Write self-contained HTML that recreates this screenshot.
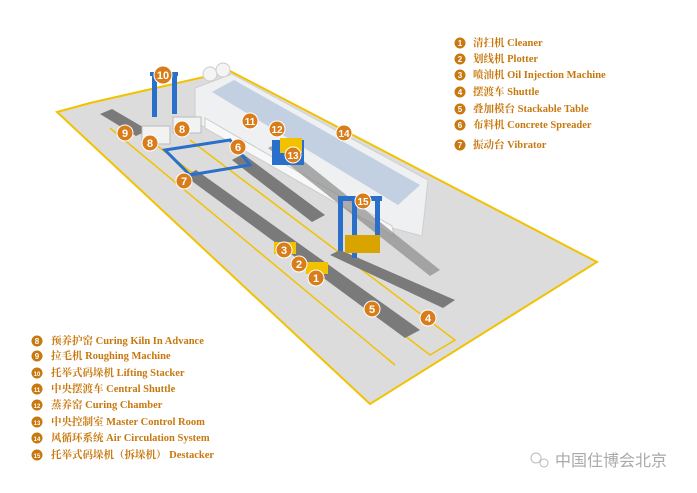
<!DOCTYPE html>
<html><head><meta charset="utf-8"><style>
body{margin:0;background:#fff;width:697px;height:493px;overflow:hidden}
svg{display:block}
.l{font-family:"Liberation Serif","Noto Serif CJK SC",serif;font-size:10.5px;font-weight:bold;fill:#c8780e}
.n{font-family:"Liberation Sans",sans-serif;font-size:8px;font-weight:bold;fill:#fff;text-anchor:middle}
.b{font-family:"Liberation Sans",sans-serif;font-size:11px;font-weight:bold;fill:#fff;text-anchor:middle}
</style></head><body>
<svg width="697" height="493" viewBox="0 0 697 493">
<polygon points="230,71 597,262 370,404 57,112 90,103" fill="#dcdcdc" stroke="#f2c200" stroke-width="2"/>
<polyline points="130,125 430,355 455,340 190,140" fill="none" stroke="#f2c200" stroke-width="1.5"/>
<polyline points="110,128 395,365" fill="none" stroke="#f2c200" stroke-width="1.5"/>
<polygon points="195,88 232,74 428,180 422,236 392,228 195,122" fill="#eef0f2" stroke="#cfcfcf"/>
<polygon points="212,92 234,80 420,185 398,205" fill="#c3d0e2"/>
<polygon points="205,118 392,226 394,236 205,128" fill="#f8f8f8" stroke="#ccc"/>
<circle cx="210" cy="74" r="7" fill="#f4f4f4" stroke="#ccc"/>
<circle cx="223" cy="70" r="7" fill="#f4f4f4" stroke="#ccc"/>
<polygon points="185,176 196,170 420,330 405,338" fill="#7a7a7a"/>
<polygon points="232,160 243,154 325,215 312,222" fill="#7a7a7a"/>
<polygon points="330,255 340,250 455,300 443,308" fill="#7a7a7a"/>
<polygon points="268,148 280,142 440,270 430,276" fill="#8a8a8a" opacity=".7"/>
<polygon points="100,114 112,109 148,130 136,136" fill="#7a7a7a"/>
<rect x="142" y="126" width="28" height="18" fill="#f2f2f2" stroke="#bbb"/>
<rect x="173" y="117" width="28" height="16" fill="#f2f2f2" stroke="#bbb"/>
<polygon points="165,150 230,140 250,165 190,175" fill="none" stroke="#2a6fc9" stroke-width="3"/>
<rect x="272" y="140" width="32" height="25" fill="#2a6fc9"/>
<rect x="280" y="138" width="22" height="15" fill="#f2c200"/>
<rect x="150" y="72" width="28" height="4" fill="#2a6fc9"/>
<rect x="152" y="72" width="5" height="45" fill="#2a6fc9"/>
<rect x="172" y="72" width="5" height="42" fill="#2a6fc9"/>
<rect x="338" y="196" width="44" height="5" fill="#2a6fc9"/>
<rect x="338" y="196" width="5" height="55" fill="#2a6fc9"/>
<rect x="352" y="200" width="5" height="58" fill="#2a6fc9"/>
<rect x="375" y="198" width="5" height="48" fill="#2a6fc9"/>
<rect x="345" y="235" width="35" height="18" fill="#d9a400"/>
<rect x="274" y="242" width="22" height="12" fill="#f2c200"/>
<rect x="306" y="262" width="22" height="12" fill="#f2c200"/>
<g fill="#d97d1a" stroke="#fff" stroke-width="1">
<circle cx="163" cy="75" r="9"/><circle cx="125" cy="133" r="8"/><circle cx="150" cy="143" r="8"/><circle cx="182" cy="129" r="8"/><circle cx="238" cy="147" r="8"/><circle cx="184" cy="181" r="8"/><circle cx="250" cy="121" r="8"/><circle cx="277" cy="129" r="8"/><circle cx="293" cy="155" r="8"/><circle cx="344" cy="133" r="8"/><circle cx="363" cy="201" r="8"/><circle cx="284" cy="250" r="8"/><circle cx="299" cy="264" r="8"/><circle cx="316" cy="278" r="8"/><circle cx="372" cy="309" r="8"/><circle cx="428" cy="318" r="8"/>
</g>
<g class="b">
<text x="163" y="79">10</text><text x="125" y="137">9</text><text x="150" y="147">8</text><text x="182" y="133">8</text><text x="238" y="151">6</text><text x="184" y="185">7</text><text x="250" y="125" style="font-size:10px">11</text><text x="277" y="133" style="font-size:10px">12</text><text x="293" y="159" style="font-size:10px">13</text><text x="344" y="137" style="font-size:10px">14</text><text x="363" y="205" style="font-size:10px">15</text><text x="284" y="254">3</text><text x="299" y="268">2</text><text x="316" y="282">1</text><text x="372" y="313">5</text><text x="428" y="322">4</text>
</g>
<g fill="#c8780e">
<circle cx="460" cy="43" r="5.5"/><circle cx="460" cy="59" r="5.5"/><circle cx="460" cy="75" r="5.5"/><circle cx="460" cy="92" r="5.5"/><circle cx="460" cy="109" r="5.5"/><circle cx="460" cy="125" r="5.5"/><circle cx="460" cy="145" r="5.5"/>
<circle cx="37" cy="341" r="5.5"/><circle cx="37" cy="356" r="5.5"/><circle cx="37" cy="373" r="5.5"/><circle cx="37" cy="389" r="5.5"/><circle cx="37" cy="405" r="5.5"/><circle cx="37" cy="422" r="5.5"/><circle cx="37" cy="438" r="5.5"/><circle cx="37" cy="455" r="5.5"/>
</g>
<g class="n">
<text x="460" y="46">1</text><text x="460" y="62">2</text><text x="460" y="78">3</text><text x="460" y="95">4</text><text x="460" y="112">5</text><text x="460" y="128">6</text><text x="460" y="148">7</text>
<text x="37" y="344">8</text><text x="37" y="359">9</text><text x="37" y="376" style="font-size:6px">10</text><text x="37" y="392" style="font-size:6px">11</text><text x="37" y="408" style="font-size:6px">12</text><text x="37" y="425" style="font-size:6px">13</text><text x="37" y="441" style="font-size:6px">14</text><text x="37" y="458" style="font-size:6px">15</text>
</g>
<g class="l">
<text x="473" y="46">清扫机 Cleaner</text>
<text x="473" y="62">划线机 Plotter</text>
<text x="473" y="78">喷油机 Oil Injection Machine</text>
<text x="473" y="95">摆渡车 Shuttle</text>
<text x="473" y="112">叠加模台 Stackable Table</text>
<text x="473" y="128">布料机 Concrete Spreader</text>
<text x="473" y="148">振动台 Vibrator</text>
<text x="51" y="344">预养护窑 Curing Kiln In Advance</text>
<text x="51" y="359">拉毛机 Roughing Machine</text>
<text x="51" y="376">托举式码垛机 Lifting Stacker</text>
<text x="51" y="392">中央摆渡车 Central Shuttle</text>
<text x="51" y="408">蒸养窑 Curing Chamber</text>
<text x="51" y="425">中央控制室 Master Control Room</text>
<text x="51" y="441">风循环系统 Air Circulation System</text>
<text x="51" y="458">托举式码垛机（拆垛机） Destacker</text>
</g>
<circle cx="536" cy="458" r="5" fill="none" stroke="#bbb"/>
<circle cx="544" cy="463" r="4" fill="none" stroke="#bbb"/>
<text x="555" y="466" style="font-family:'Noto Sans CJK SC',sans-serif;font-size:16px;fill:#aaa">中国住博会北京</text>
</svg>
</body></html>
